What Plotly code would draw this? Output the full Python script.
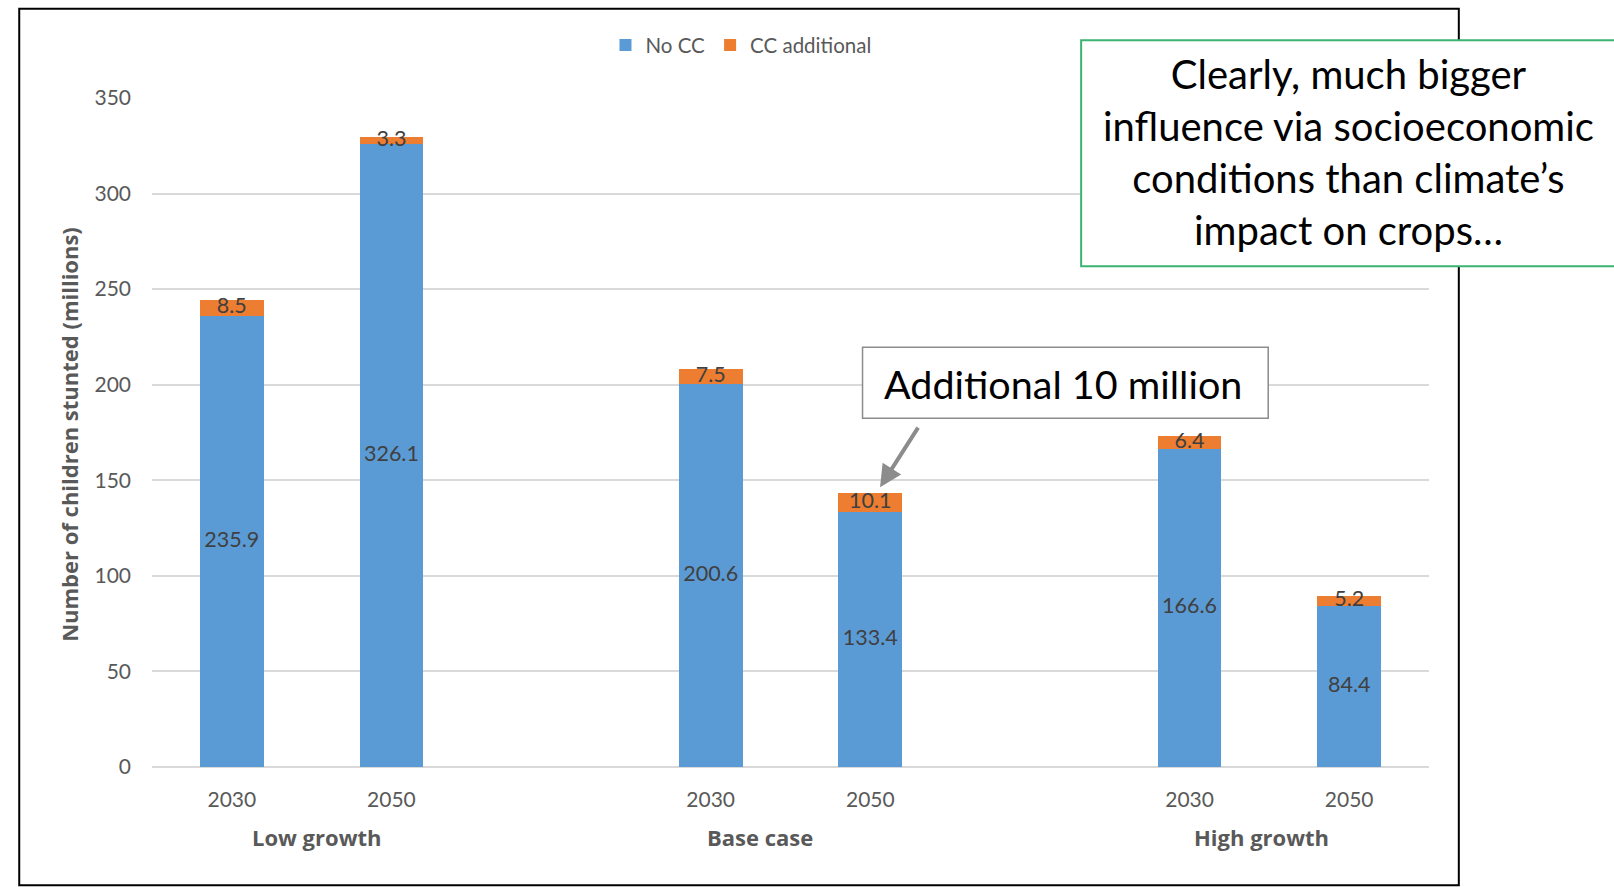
import plotly.graph_objects as go

# ---- data ----
groups = ["Low growth", "Base case", "High growth"]
years = ["2030", "2050", "2030", "2050", "2030", "2050"]
no_cc = [235.9, 326.1, 200.6, 133.4, 166.6, 84.4]
cc_additional = [8.5, 3.3, 7.5, 10.1, 6.4, 5.2]
y_ticks = [0, 50, 100, 150, 200, 250, 300, 350]

# slot positions (empty slot between groups, like Excel blank categories)
slots = [0, 1, 3, 4, 6, 7]
group_label_x = [0.53, 3.31, 6.45]

BLUE = "#5B9BD5"
ORANGE = "#ED7D31"
FONT = "Lato"
BOLD_FONT = "Open Sans"

W, H = 1614, 887
L, R, T, B = 152.3, 1428.7, 97.8, 766.8


def px(x):
    return (x - L) / (R - L)


def py(y):
    return (B - y) / (B - T)


fig = go.Figure()
fig.add_trace(go.Bar(x=slots, y=no_cc, name="No CC", marker_color=BLUE,
                     width=0.4, marker_line_width=0))
fig.add_trace(go.Bar(x=slots, y=cc_additional, name="CC additional",
                     marker_color=ORANGE, width=0.4, marker_line_width=0))

# data labels (centered in each segment)
fig.add_trace(go.Scatter(
    x=slots, y=[v / 2 for v in no_cc], mode="text",
    text=[f"{v:.1f}" for v in no_cc],
    textfont=dict(family=FONT, size=21.5, color="#404040"),
    showlegend=False, hoverinfo="skip"))
fig.add_trace(go.Scatter(
    x=slots, y=[a + b / 2 for a, b in zip(no_cc, cc_additional)], mode="text",
    text=[f"{v:.1f}" for v in cc_additional],
    textfont=dict(family=FONT, size=21.5, color="#404040"),
    showlegend=False, hoverinfo="skip"))

annotations = []
for g, gx in zip(groups, group_label_x):
    annotations.append(dict(
        x=gx, y=py(837), xref="x", yref="paper", text=f"<b>{g}</b>",
        showarrow=False, font=dict(family=BOLD_FONT, size=22, color="#595959"),
        xanchor="center", yanchor="middle"))

# y-axis title
annotations.append(dict(
    x=px(70), y=py(434), xref="paper", yref="paper",
    text="<b>Number of children stunted (millions)</b>", textangle=-90,
    showarrow=False, font=dict(family=BOLD_FONT, size=22, color="#595959"),
    xanchor="center", yanchor="middle"))

# callout: Additional 10 million
annotations.append(dict(
    x=px(1063), y=py(383), xref="paper", yref="paper",
    text="Additional 10 million", showarrow=False,
    font=dict(family=FONT, size=39.5, color="#000000"),
    xanchor="center", yanchor="middle"))
# arrow
annotations.append(dict(
    x=px(880), y=py(487), xref="paper", yref="paper",
    ax=39, ay=-61, axref="pixel", ayref="pixel",
    text="", showarrow=True, arrowhead=2, arrowsize=1.1, arrowwidth=4,
    arrowcolor="#8C8C8C"))

# green callout text
annotations.append(dict(
    x=px(1348), y=py(152), xref="paper", yref="paper",
    text="Clearly, much bigger<br>influence via socioeconomic<br>conditions than climate’s<br>impact on crops…",
    showarrow=False, align="center",
    font=dict(family=FONT, size=40, color="#000000"),
    xanchor="center", yanchor="middle"))

shapes = [
    # outer black frame
    dict(type="rect", xref="paper", yref="paper",
         x0=px(19.6), x1=px(1458.5), y0=py(885), y1=py(8.5),
         line=dict(color="#000000", width=2), fillcolor="rgba(0,0,0,0)", layer="below"),
    # green box
    dict(type="rect", xref="paper", yref="paper",
         x0=px(1081), x1=px(1640), y0=py(266), y1=py(40),
         line=dict(color="#3CB371", width=2), fillcolor="#FFFFFF", layer="above"),
    # gray box
    dict(type="rect", xref="paper", yref="paper",
         x0=px(862.5), x1=px(1268), y0=py(418), y1=py(347),
         line=dict(color="#8C8C8C", width=1.5), fillcolor="#FFFFFF", layer="above"),
]

fig.update_layout(
    barmode="stack",
    width=W, height=H,
    margin=dict(l=L, r=W - R, t=T, b=H - B),
    paper_bgcolor="#FFFFFF", plot_bgcolor="#FFFFFF",
    font=dict(family=FONT, size=20, color="#595959"),
    legend=dict(orientation="h", x=px(741), y=py(45), xanchor="center",
                yanchor="middle", font=dict(family=FONT, size=20.5, color="#595959"),
                traceorder="normal", itemwidth=30),
    xaxis=dict(range=[-0.5, 7.5], tickmode="array", tickvals=slots, ticktext=years,
               showgrid=False, zeroline=False, showline=False, ticks="",
               ticklabelstandoff=18,
               tickfont=dict(family=FONT, size=21, color="#595959")),
    yaxis=dict(range=[0, 350], tickmode="array", tickvals=y_ticks,
               showgrid=True, gridcolor="#D9D9D9", gridwidth=1.5,
               zeroline=True, zerolinecolor="#D9D9D9", zerolinewidth=2,
               showline=False, ticks="", ticklabelstandoff=20,
               tickfont=dict(family=FONT, size=21, color="#595959")),
    annotations=annotations,
    shapes=shapes,
    showlegend=True,
)

fig.write_html("out.html")
